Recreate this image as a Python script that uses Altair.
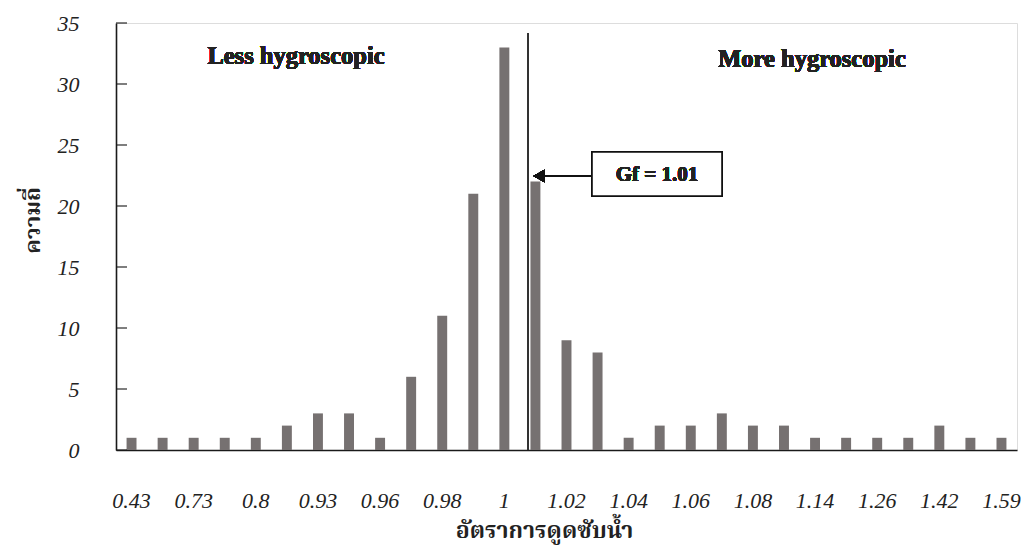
import json
import altair as alt
import pandas as pd

# ---- data ----
tick_labels = ["0.43", "0.73", "0.8", "0.93", "0.96", "0.98", "1", "1.02",
               "1.04", "1.06", "1.08", "1.14", "1.26", "1.42", "1.59"]
counts = [1, 1, 1, 1, 1, 2, 3, 3, 1, 6, 11, 21, 33, 22, 9, 8, 1, 2, 2, 3,
          2, 2, 1, 1, 1, 1, 2, 1, 1]
y_ticks = [0, 5, 10, 15, 20, 25, 30, 35]

df = pd.DataFrame({"idx": list(range(len(counts))), "count": counts})

W, H = 901, 427
SERIF = "Liberation Serif"
THAI = "Noto Serif Thai, Noto Sans Thai, Loma, Garuda, serif"

label_expr = ("datum.value % 2 == 0 ? " + json.dumps(tick_labels) +
              "[datum.value / 2] : ''")

x = alt.X("idx:O", sort=None,
          scale=alt.Scale(paddingInner=0.68, paddingOuter=0.34),
          axis=alt.Axis(title="อัตราการดูดซับน้ำ", labelExpr=label_expr,
                        labelAngle=0, ticks=False, domainColor="#1a1a1a",
                        domainWidth=1.6, labelFont=SERIF, labelFontStyle="italic",
                        labelFontSize=22, labelColor="#222222", labelPadding=40,
                        titleFont=THAI, titleFontSize=23, titleFontWeight="bold",
                        titleColor="#222222", titleX=428, titleY=80,
                        titleBaseline="middle"))
y = alt.Y("count:Q",
          scale=alt.Scale(domain=[0, 35], nice=False),
          axis=alt.Axis(title="ความถี่", values=y_ticks, ticks=False, grid=False,
                        domainColor="#1a1a1a", domainWidth=1.6,
                        labelFont=SERIF, labelFontStyle="italic", labelFontSize=22,
                        labelColor="#222222", labelPadding=37,
                        titleFont=THAI, titleFontSize=22, titleFontWeight="bold",
                        titleColor="#222222", titleX=-84, titleY=197,
                        titleBaseline="middle", titleAngle=270))

bars = alt.Chart(df).mark_bar(color="#767171").encode(x=x, y=y)

tick_df = pd.DataFrame({"t": y_ticks})
ticks = alt.Chart(tick_df).mark_tick(color="#1a1a1a", thickness=1.6, size=11,
                                     orient="horizontal").encode(
    y=alt.Y("t:Q"), x=alt.value(5.5))

vline = alt.Chart(df).mark_rule(color="#333333", strokeWidth=1.2).encode(
    x=alt.value(411.7), y=alt.value(10), y2=alt.value(H))

arrow_line = alt.Chart(df).mark_rule(color="#111111", strokeWidth=2).encode(
    x=alt.value(476), x2=alt.value(425), y=alt.value(153))
arrow_head = alt.Chart(df).mark_point(shape="triangle-left", filled=True,
                                      color="#111111", size=160, opacity=1).encode(
    x=alt.value(423), y=alt.value(153))

box = alt.Chart(df).mark_rect(fill="white", stroke="#111111", strokeWidth=1.6).encode(
    x=alt.value(476), x2=alt.value(606), y=alt.value(129), y2=alt.value(173))

gf_text = alt.Chart(df).mark_text(text="Gf = 1.01", font=SERIF, fontSize=21,
                                  fontWeight="bold", color="#222222",
                                  baseline="middle").encode(
    x=alt.value(541), y=alt.value(152))
less_text = alt.Chart(df).mark_text(text="Less hygroscopic", font=SERIF,
                                    fontSize=24.5, fontWeight="bold", color="#222222",
                                    baseline="middle").encode(
    x=alt.value(180), y=alt.value(34))
more_text = alt.Chart(df).mark_text(text="More hygroscopic", font=SERIF,
                                    fontSize=24.5, fontWeight="bold", color="#222222",
                                    baseline="middle").encode(
    x=alt.value(696), y=alt.value(37))

chart = alt.layer(bars, ticks, vline, arrow_line, arrow_head, box, gf_text,
                  less_text, more_text).properties(
    width=W, height=H,
    autosize=alt.AutoSizeParams(type="none"),
    padding={"left": 108, "top": 15, "right": 4, "bottom": 100},
).configure_view(stroke="#8a8a8a", strokeWidth=1.6).configure(background="white")

chart.save("out.html", embed_options={"renderer": "svg", "actions": False})
